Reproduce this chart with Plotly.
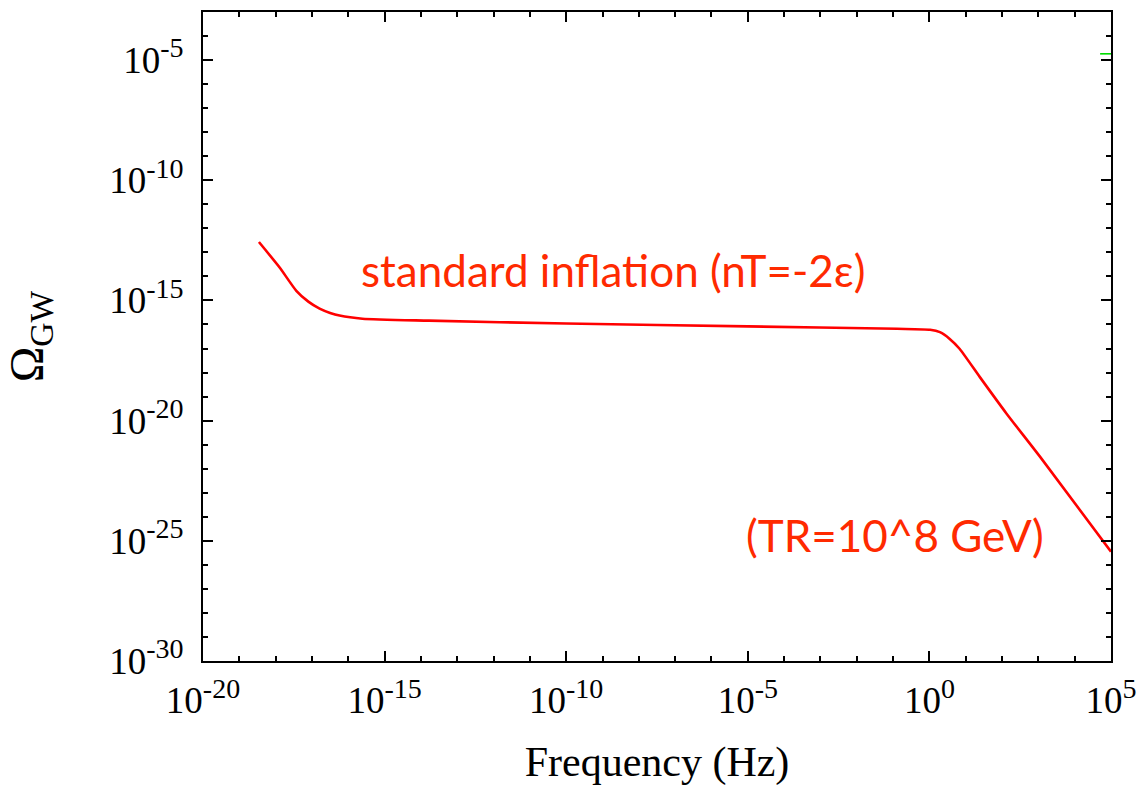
import numpy as np
import plotly.graph_objects as go

# Spectrum of the inflationary GW background (log10 values)
log_freq = [-18.46, -17.89, -17.43, -17.10, -16.79, -16.50, -16.24, -15.61,
            -13.78, -10.0, -5.0, -0.89, 0.02, 0.29, 0.56, 0.83, 1.39, 2.12, 3.08, 5.0]
log_omega = [-12.57, -13.63, -14.60, -15.05, -15.34, -15.52, -15.63, -15.76,
             -15.84, -15.96, -16.08, -16.18, -16.22, -16.32, -16.60, -17.01, -18.19, -19.70, -21.57, -25.45]

# Short segment of a second curve at the top right
green_log_freq = [4.70, 5.0]
green_log_omega = [-4.74, -4.74]

x_tick_exp = [-20, -15, -10, -5, 0, 5]
y_tick_exp = [-30, -25, -20, -15, -10, -5]

label_main = "standard inflation (nT=-2ε)"
label_tr = "(TR=10^8 GeV)"

freq = np.power(10.0, log_freq)
omega = np.power(10.0, log_omega)

fig = go.Figure()
fig.add_trace(go.Scatter(x=freq, y=omega, mode="lines",
                         line=dict(color="#ff0000", width=2.6, shape="spline", smoothing=0.6),
                         showlegend=False))
fig.add_trace(go.Scatter(x=np.power(10.0, green_log_freq), y=np.power(10.0, green_log_omega),
                         mode="lines", line=dict(color="#00dd00", width=1.6), showlegend=False))

label_font = dict(family="Lato, 'Open Sans', sans-serif", size=44, color="#ff2a00")
fig.add_annotation(x=-8.7, y=-13.72, xref="x", yref="y", text=label_main,
                   showarrow=False, font=label_font)
fig.add_annotation(x=-0.95, y=-24.74, xref="x", yref="y", text=label_tr,
                   showarrow=False, font=label_font)

serif = "Liberation Serif, Times New Roman, serif"
TICK_SIZE = 37
SUP_SIZE = 28


def tick_labels(exps):
    return [f"<span style='font-size:{TICK_SIZE}px'>10</span>"
            f"<sup><span style='font-size:{SUP_SIZE}px'>{e}</span></sup>" for e in exps]


axis_common = dict(
    type="log", showgrid=False, zeroline=False,
    showline=True, linecolor="black", linewidth=2, mirror="allticks",
    ticks="inside", ticklen=10, tickwidth=1.5, tickcolor="black",
    tickfont=dict(family=serif, size=TICK_SIZE, color="black"),
    minor=dict(dtick=1, ticks="inside", ticklen=5, tickwidth=1.5, tickcolor="black", showgrid=False),
)

fig.update_xaxes(range=[-20, 5], tickmode="array", ticklabelstandoff=6,
                 tickvals=[10.0 ** e for e in x_tick_exp], ticktext=tick_labels(x_tick_exp),
                 title=dict(text="Frequency (Hz)", standoff=26,
                            font=dict(family=serif, size=42, color="black")),
                 **axis_common)
fig.update_yaxes(range=[-30, -3], tickmode="array", ticklabelstandoff=10,
                 tickvals=[10.0 ** e for e in y_tick_exp], ticktext=tick_labels(y_tick_exp),
                 title=dict(text="Ω<sub>GW</sub>", standoff=52,
                            font=dict(family=serif, size=48, color="black")),
                 **axis_common)

fig.update_layout(
    width=1147, height=787,
    margin=dict(l=203, r=32, t=10, b=125),
    plot_bgcolor="white", paper_bgcolor="white",
)

fig.write_html("out.html")
